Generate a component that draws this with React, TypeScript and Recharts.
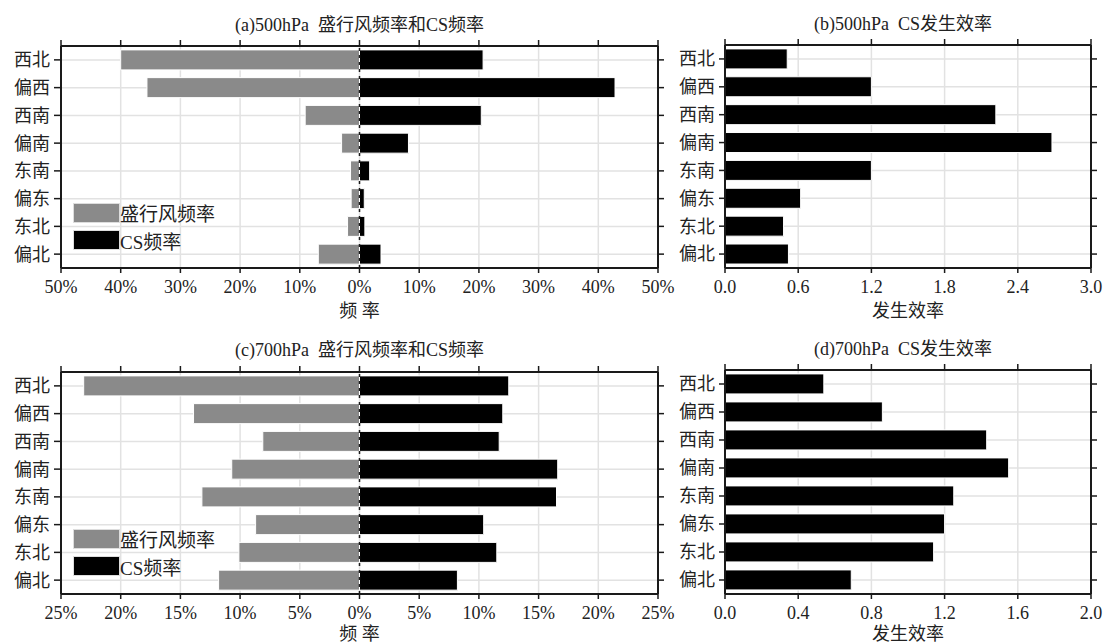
import {
  BarChart,
  Bar,
  XAxis,
  YAxis,
  CartesianGrid,
  ReferenceLine,
  Legend,
} from "recharts"

const categories = ["西北", "偏西", "西南", "偏南", "东南", "偏东", "东北", "偏北"]

// 500hPa (percent)
const prevailing500 = [40.0, 35.6, 9.1, 3.0, 1.5, 1.4, 2.0, 6.9]
const cs500 = [20.7, 42.8, 20.4, 8.2, 1.7, 0.8, 0.9, 3.6]
const efficiency500 = [0.51, 1.2, 2.22, 2.68, 1.2, 0.62, 0.48, 0.52]

// 700hPa (percent)
const prevailing700 = [23.1, 13.9, 8.1, 10.7, 13.2, 8.7, 10.1, 11.8]
const cs700 = [12.5, 12.0, 11.7, 16.6, 16.5, 10.4, 11.5, 8.2]
const efficiency700 = [0.54, 0.86, 1.43, 1.55, 1.25, 1.2, 1.14, 0.69]

const freqTicks500 = [-50, -40, -30, -20, -10, 0, 10, 20, 30, 40, 50]
const freqTicks700 = [-25, -20, -15, -10, -5, 0, 5, 10, 15, 20, 25]
const effTicks500 = [0, 0.6, 1.2, 1.8, 2.4, 3.0]
const effTicks700 = [0, 0.4, 0.8, 1.2, 1.6, 2.0]

// legend order = drawing order
const seriesOrder = ["prevailing", "cs"]

const FONT = "'Liberation Serif', 'Noto Sans CJK SC', serif"
const INK = "#222"
const FRAME = { stroke: "#1a1a1a", strokeWidth: 2 }
const TICKLINE = { stroke: "#1a1a1a", strokeWidth: 1.5 }
const TICKTEXT = { fontSize: 18, fill: INK, fontFamily: FONT }

const pct = (v: number) => `${Math.abs(v)}%`
const blank = () => ""

function renderLegend(props: any) {
  const items = props.payload || []
  return (
    <div style={{ fontFamily: FONT, fontSize: 19, color: INK }}>
      {items.map((e: any) => (
        <div key={e.value} style={{ display: "flex", alignItems: "center", height: 27.5 }}>
          <span
            style={{
              display: "inline-block",
              width: 45,
              height: 18,
              background: e.color,
              boxShadow: "0 0 0 1px #ddd",
            }}
          />
          <span style={{ marginLeft: 1 }}>{e.value}</span>
        </div>
      ))}
    </div>
  )
}

function FreqPanel(props: {
  top: number
  height: number
  titleTop: number
  title: string
  prevailing: number[]
  cs: number[]
  ticks: number[]
  mt: number
  mb: number
  xh: number
}) {
  const { top, height, titleTop, title, prevailing, cs, ticks, mt, mb, xh } = props
  const data = categories.map((name, i) => ({
    name,
    prevailing: -prevailing[i],
    cs: cs[i],
  }))
  const domain = [ticks[0], ticks[ticks.length - 1]]
  return (
    <div style={{ position: "absolute", left: 0, top, width: 680, height }}>
      <div
        style={{
          position: "absolute",
          left: 61,
          width: 597,
          top: titleTop,
          textAlign: "center",
          fontFamily: FONT,
          fontSize: 18,
          lineHeight: "20px",
          whiteSpace: "pre",
          color: INK,
        }}
      >
        {title}
      </div>
      <BarChart
        width={680}
        height={height}
        data={data}
        layout="vertical"
        stackOffset="sign"
        barCategoryGap="14%"
        margin={{ top: mt, right: 12, bottom: mb, left: 0 }}
        style={{ fontFamily: FONT }}
      >
        <CartesianGrid stroke="#e2e2e2" strokeWidth={1.5} />
        <XAxis
          type="number"
          domain={domain}
          ticks={ticks}
          allowDataOverflow
          interval={0}
          tickFormatter={pct}
          height={xh}
          tickSize={5}
          tickMargin={7}
          axisLine={FRAME}
          tickLine={TICKLINE}
          tick={TICKTEXT}
          label={{ value: "频 率", position: "insideBottom", offset: 0, fontSize: 18, fill: INK, fontFamily: FONT }}
        />
        <XAxis
          xAxisId="top"
          orientation="top"
          type="number"
          domain={domain}
          ticks={ticks}
          allowDataOverflow
          interval={0}
          height={6}
          tickSize={6}
          tickFormatter={blank}
          axisLine={FRAME}
          tickLine={TICKLINE}
        />
        <YAxis
          type="category"
          dataKey="name"
          width={61}
          interval={0}
          tickSize={7}
          tickMargin={4}
          axisLine={FRAME}
          tickLine={TICKLINE}
          tick={TICKTEXT}
        />
        <YAxis
          yAxisId="right"
          orientation="right"
          type="category"
          dataKey="name"
          width={10}
          interval={0}
          tickSize={6}
          tickFormatter={blank}
          axisLine={FRAME}
          tickLine={TICKLINE}
        />
        <ReferenceLine x={0} stroke="#1a1a1a" strokeWidth={1.5} strokeDasharray="3 4" />
        <Bar
          dataKey="prevailing"
          name="盛行风频率"
          stackId="f"
          fill="#8a8a8a"
          stroke="#ffffff"
          strokeWidth={1}
          isAnimationActive={false}
        />
        <Bar
          dataKey="cs"
          name="CS频率"
          stackId="f"
          fill="#000000"
          stroke="#ffffff"
          strokeWidth={1}
          isAnimationActive={false}
        />
        <Legend
          content={renderLegend}
          layout="vertical"
          align="center"
          verticalAlign="middle"
          itemSorter={(item: any) => seriesOrder.indexOf(item.dataKey)}
          wrapperStyle={{ left: 74, top: 199, width: 200 }}
        />
      </BarChart>
    </div>
  )
}

function EffPanel(props: {
  top: number
  height: number
  titleTop: number
  title: string
  values: number[]
  ticks: number[]
  mt: number
  mb: number
  xh: number
}) {
  const { top, height, titleTop, title, values, ticks, mt, mb, xh } = props
  const data = categories.map((name, i) => ({ name, eff: values[i] }))
  const domain = [ticks[0], ticks[ticks.length - 1]]
  return (
    <div style={{ position: "absolute", left: 660, top, width: 450, height }}>
      <div
        style={{
          position: "absolute",
          left: 60,
          width: 366,
          top: titleTop,
          textAlign: "center",
          fontFamily: FONT,
          fontSize: 18,
          lineHeight: "20px",
          whiteSpace: "pre",
          color: INK,
        }}
      >
        {title}
      </div>
      <BarChart
        width={450}
        height={height}
        data={data}
        layout="vertical"
        barCategoryGap="14%"
        margin={{ top: mt, right: 9, bottom: mb, left: 0 }}
        style={{ fontFamily: FONT }}
      >
        <CartesianGrid stroke="#e2e2e2" strokeWidth={1.5} />
        <XAxis
          type="number"
          domain={domain}
          ticks={ticks}
          allowDataOverflow
          interval={0}
          tickFormatter={(v: number) => v.toFixed(1)}
          height={xh}
          tickSize={5}
          tickMargin={7}
          axisLine={FRAME}
          tickLine={TICKLINE}
          tick={TICKTEXT}
          label={{ value: "发生效率", position: "insideBottom", offset: 0, fontSize: 18, fill: INK, fontFamily: FONT }}
        />
        <XAxis
          xAxisId="top"
          orientation="top"
          type="number"
          domain={domain}
          ticks={ticks}
          allowDataOverflow
          interval={0}
          height={6}
          tickSize={6}
          tickFormatter={blank}
          axisLine={FRAME}
          tickLine={TICKLINE}
        />
        <YAxis
          type="category"
          dataKey="name"
          width={65}
          interval={0}
          tickSize={6}
          tickMargin={4}
          axisLine={FRAME}
          tickLine={TICKLINE}
          tick={TICKTEXT}
        />
        <YAxis
          yAxisId="right"
          orientation="right"
          type="category"
          dataKey="name"
          width={10}
          interval={0}
          tickSize={6}
          tickFormatter={blank}
          axisLine={FRAME}
          tickLine={TICKLINE}
        />
        <Bar
          dataKey="eff"
          name="CS发生效率"
          fill="#000000"
          stroke="#ffffff"
          strokeWidth={1}
          isAnimationActive={false}
        />
      </BarChart>
    </div>
  )
}

export default function App() {
  return (
    <div
      style={{
        position: "absolute",
        left: 0,
        top: 0,
        width: 1110,
        height: 644,
        background: "#fff",
        fontFamily: FONT,
      }}
    >
      <FreqPanel
        top={0}
        height={322}
        titleTop={15}
        title="(a)500hPa  盛行风频率和CS频率"
        prevailing={prevailing500}
        cs={cs500}
        ticks={freqTicks500}
        mt={40}
        mb={5}
        xh={49}
      />
      <EffPanel
        top={0}
        height={322}
        titleTop={14}
        title="(b)500hPa  CS发生效率"
        values={efficiency500}
        ticks={effTicks500}
        mt={39}
        mb={5}
        xh={49}
      />
      <FreqPanel
        top={326}
        height={318}
        titleTop={13.5}
        title="(c)700hPa  盛行风频率和CS频率"
        prevailing={prevailing700}
        cs={cs700}
        ticks={freqTicks700}
        mt={40}
        mb={4}
        xh={46}
      />
      <EffPanel
        top={326}
        height={318}
        titleTop={12.5}
        title="(d)700hPa  CS发生效率"
        values={efficiency700}
        ticks={effTicks700}
        mt={38}
        mb={4}
        xh={46}
      />
    </div>
  )
}
